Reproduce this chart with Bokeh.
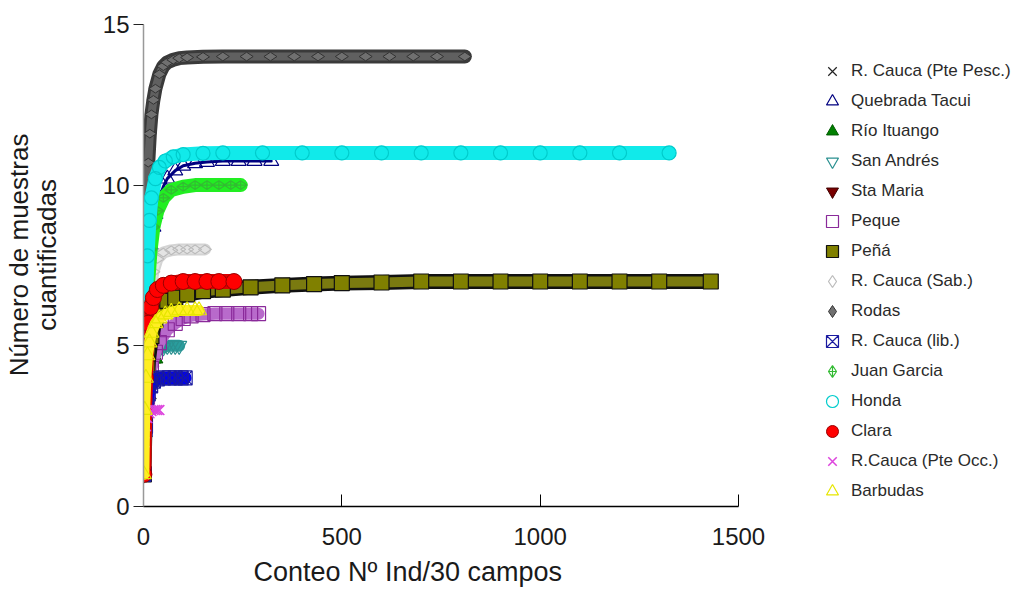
import math
from bokeh.plotting import figure
from bokeh.models import Range1d, Legend, LegendItem, FixedTicker, Title
from bokeh.embed import file_html
from bokeh.resources import INLINE

# ---------------- data ----------------
x_ticks = [0, 500, 1000, 1500]
y_ticks = [0, 5, 10, 15]

# 1 R. Cauca (Pte Pesc.)
pesc_x = [1, 3, 6, 10, 15, 20]
pesc_y = [1.0, 2.0, 2.7, 3.1, 3.4, 3.5]
# 2 Quebrada Tacui
tacui_x = [1, 4, 8, 12, 16, 20, 25, 30, 40, 50, 60, 80, 100, 130, 160, 200, 240, 280, 322]
tacui_y = [1.0, 3.2, 5.3, 6.6, 7.5, 8.1, 8.7, 9.1, 9.6, 9.95, 10.2, 10.45, 10.6, 10.68, 10.72, 10.75, 10.75, 10.75, 10.75]
# 3 Río Ituango
ituango_x = [1, 3, 6, 10, 15, 20, 25, 30]
ituango_y = [1.0, 2.3, 3.2, 3.9, 4.3, 4.5, 4.6, 4.6]
# 4 San Andrés
andres_x = [1, 5, 10, 15, 20, 30, 40, 50, 60, 70, 80, 90]
andres_y = [1.0, 2.8, 3.7, 4.2, 4.5, 4.8, 4.9, 4.95, 5.0, 5.0, 5.0, 5.0]
# 5 Sta Maria
maria_x = [1, 3, 6, 10, 15, 20, 30, 40, 60, 80, 100, 130, 160, 190, 215]
maria_y = [1.0, 3.0, 4.2, 5.1, 5.7, 6.1, 6.5, 6.7, 6.88, 6.95, 6.97, 7.0, 7.0, 7.0, 7.0]
# 6 Peque
peque_x = [1, 5, 10, 20, 30, 40, 60, 80, 100, 120, 150, 180, 210, 240, 270, 290]
peque_y = [1.0, 2.5, 3.4, 4.3, 4.8, 5.1, 5.5, 5.7, 5.85, 5.93, 5.97, 6.0, 6.0, 6.0, 6.0, 6.0]
# 7 Peñá
pena_x = [1, 5, 10, 20, 30, 45, 60, 80, 110, 150, 200, 270, 350, 430, 500, 600, 700, 800, 900, 1000, 1100, 1200, 1300, 1430]
pena_y = [1.0, 3.2, 4.3, 5.3, 5.8, 6.2, 6.4, 6.5, 6.6, 6.7, 6.75, 6.82, 6.88, 6.92, 6.95, 6.97, 7.0, 7.0, 7.0, 7.0, 7.0, 7.0, 7.0, 7.0]
# 8 R. Cauca (Sab.)
sab_x = [1, 4, 8, 12, 18, 25, 35, 50, 70, 90, 110, 130, 155]
sab_y = [1.0, 3.5, 5.0, 6.0, 6.8, 7.3, 7.7, 7.9, 7.97, 8.0, 8.0, 8.0, 8.0]
# 9 Rodas
rodas_x = [1, 3, 5, 8, 12, 16, 20, 25, 30, 40, 50, 60, 75, 90, 110, 150, 200, 260, 320, 380, 440, 500, 560, 620, 680, 740, 810]
rodas_y = [1.0, 5.2, 7.6, 9.4, 10.7, 11.6, 12.2, 12.65, 13.0, 13.45, 13.7, 13.82, 13.9, 13.95, 13.97, 13.99, 14.0, 14.0, 14.0, 14.0, 14.0, 14.0, 14.0, 14.0, 14.0, 14.0, 14.0]
# 10 R. Cauca (lib.)
lib_x = [1, 4, 8, 12, 18, 25, 35, 50, 65, 80, 95, 105]
lib_y = [1.0, 2.4, 3.1, 3.5, 3.75, 3.9, 3.97, 4.0, 4.0, 4.0, 4.0, 4.0]
# 11 Juan Garcia
garcia_x = [1, 4, 8, 12, 18, 25, 35, 50, 70, 100, 130, 160, 190, 220, 245]
garcia_y = [1.0, 4.0, 5.8, 7.0, 8.0, 8.7, 9.2, 9.6, 9.85, 9.95, 10.0, 10.0, 10.0, 10.0, 10.0]
# 12 Honda
honda_x = [1, 3, 6, 10, 15, 20, 30, 40, 55, 75, 100, 150, 200, 300, 400, 500, 600, 700, 800, 900, 1000, 1100, 1200, 1325]
honda_y = [1.0, 4.0, 6.2, 7.8, 8.9, 9.6, 10.2, 10.55, 10.75, 10.88, 10.95, 10.99, 11.0, 11.0, 11.0, 11.0, 11.0, 11.0, 11.0, 11.0, 11.0, 11.0, 11.0, 11.0]
# 13 Clara
clara_x = [1, 3, 5, 8, 12, 18, 25, 35, 50, 70, 100, 130, 160, 190, 228]
clara_y = [1.0, 3.0, 4.0, 5.0, 5.7, 6.2, 6.5, 6.75, 6.88, 6.95, 7.0, 7.0, 7.0, 7.0, 7.0]
# 14 R.Cauca (Pte Occ.)
occ_x = [1, 3, 6, 10, 15, 20, 25, 30, 35, 40]
occ_y = [1.0, 2.0, 2.5, 2.75, 2.9, 2.97, 3.0, 3.0, 3.0, 3.0]
# 15 Barbudas
barb_x = [1, 3, 6, 10, 15, 20, 30, 40, 55, 70, 90, 110, 130, 140]
barb_y = [1.0, 3.0, 4.0, 4.7, 5.1, 5.4, 5.7, 5.85, 5.97, 6.05, 6.1, 6.1, 6.1, 6.1]

series = [
    ("R. Cauca (Pte Pesc.)", pesc_x, pesc_y),
    ("Quebrada Tacui", tacui_x, tacui_y),
    ("Río Ituango", ituango_x, ituango_y),
    ("San Andrés", andres_x, andres_y),
    ("Sta Maria", maria_x, maria_y),
    ("Peque", peque_x, peque_y),
    ("Peñá", pena_x, pena_y),
    ("R. Cauca (Sab.)", sab_x, sab_y),
    ("Rodas", rodas_x, rodas_y),
    ("R. Cauca (lib.)", lib_x, lib_y),
    ("Juan Garcia", garcia_x, garcia_y),
    ("Honda", honda_x, honda_y),
    ("Clara", clara_x, clara_y),
    ("R.Cauca (Pte Occ.)", occ_x, occ_y),
    ("Barbudas", barb_x, barb_y),
]

# ---------------- styles ----------------
styles = [
    dict(marker="x", line="#222222", fill=None, size=14, lw=1.2, bands=[("#333333", 1.5)]),
    dict(marker="triangle", line="#000080", fill=None, size=15, lw=1.2, bands=[("#000080", 3)]),
    dict(marker="triangle", line="#005a00", fill="#008000", size=15, lw=1, bands=[("#008000", 10)]),
    dict(marker="inverted_triangle", line="#2a9090", fill=None, size=15, lw=1.2, bands=[("#2a9d9d", 12)]),
    dict(marker="inverted_triangle", line="#400000", fill="#7a0000", size=15, lw=1, bands=[("#6a0000", 14)]),
    dict(marker="square", line="#8a2a9a", fill=None, size=14, lw=1.2, bands=[("#b86acb", 12)]),
    dict(marker="square", line="#111111", fill="#808000", size=15, lw=1.2, bands=[("#111111", 15), ("#7a7a10", 10)]),
    dict(marker="diamond", line="#bbbbbb", fill=None, size=13, lw=1.2, bands=[("#d4d4d4", 12), ("#e4e4e4", 8)], angle=math.pi / 2),
    dict(marker="diamond", line="#333333", fill="#707070", size=13, lw=1, bands=[("#3a3a3a", 14), ("#606060", 8)], angle=math.pi / 2),
    dict(marker="square_x", line="#1a1aa0", fill=None, size=14, lw=1.2, bands=[("#0000ee", 13)]),
    dict(marker="diamond_cross", line="#33bb33", fill=None, size=13, lw=1.2, bands=[("#22ee22", 14)], angle=math.pi / 2),
    dict(marker="circle", line="#00cccc", fill=None, size=14, lw=1.2, bands=[("#11eaea", 14)]),
    dict(marker="circle", line="#990000", fill="#ff0000", size=16, lw=1, bands=[("#dd0000", 15)]),
    dict(marker="x", line="#dd44dd", fill=None, size=14, lw=1.5, bands=[("#dd44dd", 2)]),
    dict(marker="triangle", line="#e6e600", fill=None, size=15, lw=1.2, bands=[("#ffee22", 11)]),
]

FONT = "Liberation Sans"
W, H = 1030, 593
FRAME_L, FRAME_T, FRAME_B = 143, 3, 507

p = figure(width=W, height=H,
           x_range=Range1d(0, 2236), y_range=Range1d(0, 15.65),
           output_backend="svg", toolbar_location=None,
           min_border_left=FRAME_L, min_border_right=0,
           min_border_top=FRAME_T, min_border_bottom=H - FRAME_B)
p.xgrid.visible = False
p.ygrid.visible = False
p.outline_line_color = None
p.background_fill_color = "white"

# axes
p.xaxis.ticker = FixedTicker(ticks=x_ticks)
p.yaxis.ticker = FixedTicker(ticks=y_ticks)
p.xaxis.bounds = (0, 1500)
p.yaxis.bounds = (0, 15)
p.xaxis.axis_line_color = "black"
p.xaxis.axis_line_width = 1.5
p.yaxis.axis_line_color = "#999999"
p.yaxis.axis_line_width = 1.5
p.xaxis.major_tick_in = 12
p.xaxis.major_tick_out = 0
p.yaxis.major_tick_in = 0
p.yaxis.major_tick_out = 10
p.xaxis.major_tick_line_color = "black"
p.yaxis.major_tick_line_color = "#222222"
p.xaxis.minor_tick_line_color = None
p.yaxis.minor_tick_line_color = None
for ax in (p.xaxis, p.yaxis):
    ax.major_label_text_font = FONT
    ax.major_label_text_font_size = "24px"
    ax.major_label_text_color = "#1a1a1a"
p.xaxis.major_label_standoff = 21
p.yaxis.major_label_standoff = 4

p.yaxis.axis_label = "Número de muestras\ncuantificadas"
p.yaxis.axis_label_standoff = 38
p.yaxis.axis_label_text_font = FONT
p.yaxis.axis_label_text_font_size = "26px"
p.yaxis.axis_label_text_font_style = "normal"
p.yaxis.axis_label_text_color = "#1a1a1a"
p.yaxis.axis_label_text_line_height = 0.93

items = []
for (name, xs, ys), st in zip(series, styles):
    for col, w in st["bands"]:
        p.line(xs, ys, line_color=col, line_width=w, line_join="round", line_cap="round")
    kw = dict(marker=st["marker"], size=st["size"], line_color=st["line"], line_width=st["lw"])
    kw["fill_color"] = st["fill"]
    if "angle" in st:
        kw["angle"] = st["angle"]
    r = p.scatter(xs, ys, **kw)
    items.append(LegendItem(label=name, renderers=[r]))

# legend inside the (wide) frame, to the right of the curves
legend = Legend(items=items, location=(673, 0),
                glyph_width=32, glyph_height=30, spacing=0,
                label_standoff=3, padding=0, margin=0,
                label_text_font=FONT, label_text_font_size="17px",
                label_text_color="#2a2a2a",
                border_line_color=None, background_fill_alpha=0)
p.add_layout(legend, "center")

xtitle = Title(text="Conteo Nº Ind/30 campos", align="left", offset=110,
               standoff=14, vertical_align="bottom", text_font=FONT, text_font_size="27px",
               text_font_style="normal", text_color="#1a1a1a")
p.add_layout(xtitle, "below")

open("out.html", "w").write(file_html(p, INLINE))
